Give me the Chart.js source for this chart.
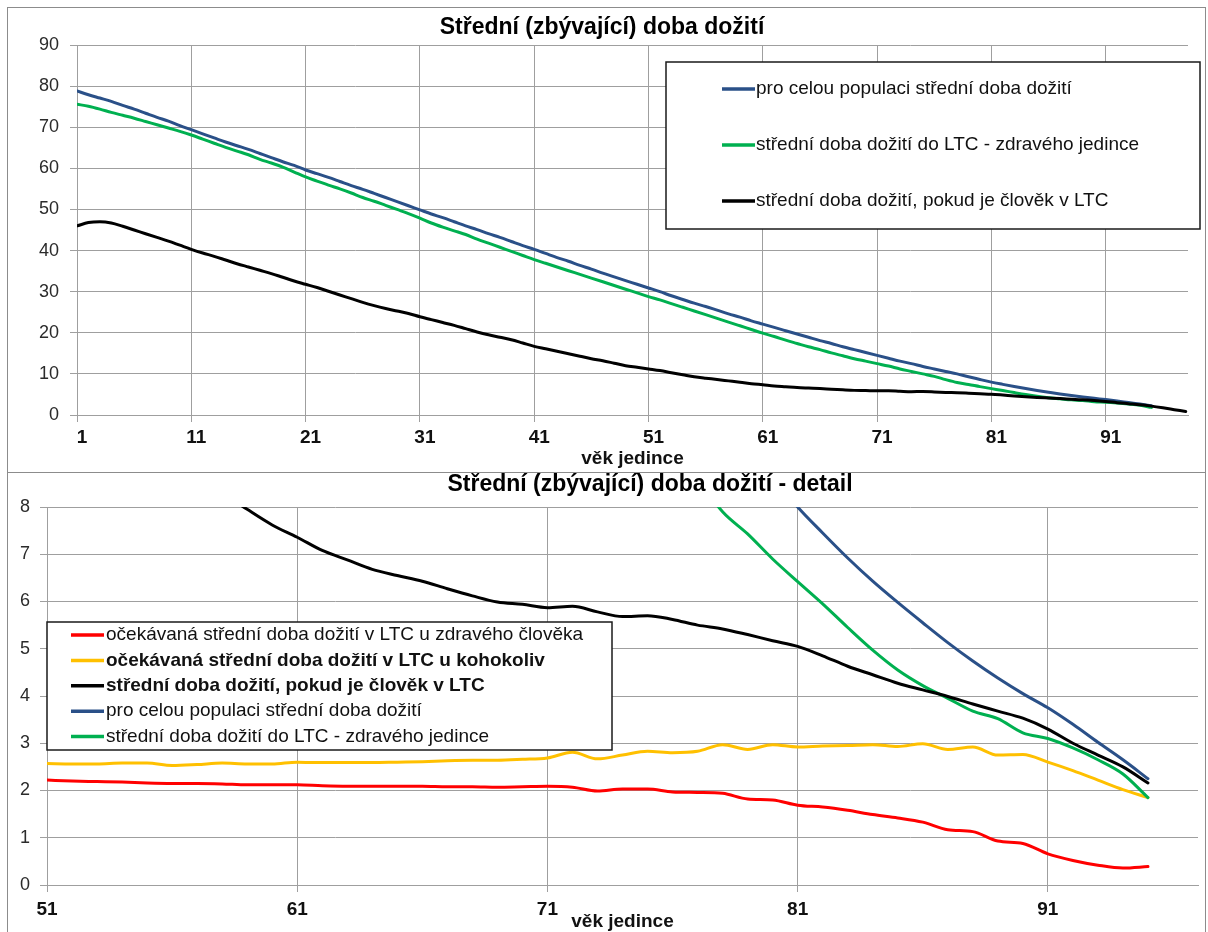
<!DOCTYPE html>
<html lang="cs">
<head>
<meta charset="utf-8">
<title>Střední (zbývající) doba dožití</title>
<script src="https://cdn.jsdelivr.net/npm/chart.js@4.4.1/dist/chart.umd.min.js"></script>
<style>
  html, body { margin: 0; padding: 0; background: #ffffff; }
  body { width: 1208px; height: 932px; position: relative; overflow: hidden; }
  .frame { position: absolute; box-sizing: border-box; border: 1px solid #8c8c8c; }
  #frameTop { left: 7px; top: 7px; width: 1199px; height: 466px; }
  #frameDetail { left: 7px; top: 472px; width: 1199px; height: 470px; }
  canvas { position: absolute; }
  #lifeTop { left: 8px; top: 8px; }
  #lifeDetail { left: 8px; top: 472px; }
</style>
</head>
<body>
<div class="frame" id="frameTop"></div>
<div class="frame" id="frameDetail"></div>
<canvas id="lifeTop" width="1196" height="464"></canvas>
<canvas id="lifeDetail" width="1196" height="460"></canvas>
<script>
// ---- ages (věk jedince) ----
const agesAll = [
  1, 2, 3, 4, 5, 6, 7, 8, 9, 10, 11, 12, 13, 14, 15, 16, 17, 18, 19, 20,
  21, 22, 23, 24, 25, 26, 27, 28, 29, 30, 31, 32, 33, 34, 35, 36, 37, 38, 39, 40,
  41, 42, 43, 44, 45, 46, 47, 48, 49, 50, 51, 52, 53, 54, 55, 56, 57, 58, 59, 60,
  61, 62, 63, 64, 65, 66, 67, 68, 69, 70, 71, 72, 73, 74, 75, 76, 77, 78, 79, 80,
  81, 82, 83, 84, 85, 86, 87, 88, 89, 90, 91, 92, 93, 94, 95, 96, 97, 98
];
const agesDetail = [
  51, 52, 53, 54, 55, 56, 57, 58, 59, 60, 61, 62, 63, 64, 65, 66, 67, 68, 69, 70,
  71, 72, 73, 74, 75, 76, 77, 78, 79, 80, 81, 82, 83, 84, 85, 86, 87, 88, 89, 90,
  91, 92, 93, 94, 95
];
const tickAgesTop = [1, 11, 21, 31, 41, 51, 61, 71, 81, 91];
const tickAgesDetail = [51, 61, 71, 81, 91];

// ---- series (years) ----
// pro celou populaci střední doba dožití, ages 1..95
const lifeAll = [
  78.8, 77.9, 77.1, 76.3, 75.3, 74.4, 73.4, 72.4, 71.5, 70.4,
  69.4, 68.4, 67.4, 66.4, 65.5, 64.6, 63.6, 62.6, 61.6, 60.7,
  59.6, 58.7, 57.8, 56.8, 55.8, 54.9, 53.9, 52.9, 51.9, 50.9,
  49.9, 48.9, 48.0, 47.0, 46.0, 45.1, 44.1, 43.2, 42.2, 41.2,
  40.3, 39.3, 38.3, 37.4, 36.4, 35.5, 34.5, 33.6, 32.7, 31.8,
  30.9, 30.0, 29.0, 28.1, 27.2, 26.4, 25.5, 24.6, 23.8, 22.9,
  22.1, 21.3, 20.5, 19.7, 18.9, 18.1, 17.4, 16.6, 15.9, 15.2,
  14.5, 13.8, 13.1, 12.5, 11.8, 11.2, 10.6, 10.0, 9.3, 8.65,
  8.0, 7.45, 6.92, 6.43, 5.98, 5.55, 5.13, 4.74, 4.38, 4.05,
  3.75, 3.4, 3.02, 2.65, 2.25
];
// střední doba dožití do LTC - zdravého jedince, ages 1..95
const lifeHealthy = [
  75.6, 75.1, 74.4, 73.6, 72.9, 72.2, 71.4, 70.6, 69.8, 69.0,
  68.1, 67.1, 66.1, 65.1, 64.2, 63.3, 62.2, 61.3, 60.3, 59.1,
  57.9, 56.9, 55.9, 55.0, 54.0, 52.9, 52.0, 51.0, 50.0, 49.0,
  47.9, 46.7, 45.7, 44.8, 43.9, 42.8, 41.8, 40.8, 39.8, 38.8,
  37.8, 36.9, 36.0, 35.1, 34.2, 33.3, 32.4, 31.5, 30.6, 29.7,
  28.8, 28.0, 27.1, 26.2, 25.3, 24.4, 23.5, 22.6, 21.7, 20.8,
  19.9, 19.1, 18.2, 17.4, 16.6, 15.9, 15.1, 14.4, 13.7, 13.1,
  12.5, 11.9, 11.2, 10.6, 10.0, 9.4, 8.6, 7.9, 7.43, 6.9,
  6.42, 5.95, 5.45, 4.97, 4.55, 4.22, 3.95, 3.68, 3.52, 3.22,
  3.1, 2.9, 2.65, 2.35, 1.85
];
// střední doba dožití, pokud je člověk v LTC, ages 1..98
const lifeInLTC = [
  46.0, 46.8, 47.0, 46.7, 45.9, 45.0, 44.1, 43.2, 42.3, 41.3,
  40.3, 39.4, 38.6, 37.7, 36.8, 36.0, 35.2, 34.4, 33.5, 32.6,
  31.8, 31.0, 30.1, 29.2, 28.3, 27.4, 26.6, 25.9, 25.3, 24.7,
  23.9, 23.2, 22.5, 21.8, 21.0, 20.2, 19.5, 18.9, 18.3, 17.5,
  16.7, 16.1, 15.5, 14.9, 14.3, 13.7, 13.2, 12.6, 12.0, 11.6,
  11.2, 10.8, 10.3, 9.8, 9.3, 8.95, 8.65, 8.3, 7.95, 7.62,
  7.36, 7.08, 6.88, 6.68, 6.55, 6.43, 6.27, 6.12, 5.99, 5.94,
  5.87, 5.9, 5.78, 5.68, 5.7, 5.62, 5.5, 5.42, 5.3, 5.17,
  5.05, 4.85, 4.63, 4.45, 4.27, 4.13, 3.99, 3.83, 3.68, 3.53,
  3.3, 3.0, 2.75, 2.5, 2.16, 1.75, 1.3, 0.85
];
// očekávaná střední doba dožití v LTC u zdravého člověka, ages 51..95
const ltcHealthy = [
  2.22, 2.20, 2.19, 2.18, 2.16, 2.15, 2.15, 2.14, 2.12, 2.12,
  2.12, 2.10, 2.09, 2.09, 2.09, 2.09, 2.08, 2.08, 2.07, 2.08,
  2.09, 2.07, 1.99, 2.03, 2.03, 1.97, 1.96, 1.94, 1.82, 1.80,
  1.69, 1.65, 1.58, 1.49, 1.42, 1.33, 1.17, 1.13, 0.93, 0.88,
  0.66, 0.52, 0.42, 0.36, 0.39
];
// očekávaná střední doba dožití v LTC u kohokoliv, ages 51..95
const ltcAnyone = [
  2.57, 2.56, 2.56, 2.58, 2.58, 2.53, 2.55, 2.58, 2.56, 2.56,
  2.60, 2.59, 2.59, 2.59, 2.60, 2.61, 2.63, 2.64, 2.64, 2.66,
  2.69, 2.81, 2.67, 2.75, 2.83, 2.80, 2.83, 2.97, 2.87, 2.97,
  2.92, 2.94, 2.95, 2.97, 2.93, 2.99, 2.87, 2.92, 2.75, 2.76,
  2.60, 2.42, 2.22, 2.02, 1.85
];

// ---- texts ----
const titleTop = 'Střední (zbývající) doba dožití';
const titleDetail = 'Střední (zbývající) doba dožití - detail';
const axisTitleX = 'věk jedince';
const nameAll = 'pro celou populaci střední doba dožití';
const nameHealthy = 'střední doba dožití do LTC - zdravého jedince';
const nameInLTC = 'střední doba dožití, pokud je člověk v LTC';
const nameLtcHealthy = 'očekávaná střední doba dožití v LTC u zdravého člověka';
const nameLtcAnyone = 'očekávaná střední doba dožití v LTC u kohokoliv';

// ---- helpers ----
const FONT = "'Liberation Sans', Arial, sans-serif";
const GRID = '#9f9f9f';
const COLORS = { all: '#2a5088', healthy: '#00b050', inLTC: '#000000', ltcHealthy: '#ff0000', ltcAnyone: '#ffc000' };
const pairs = (xs, ys) => ys.map((y, i) => ({ x: xs[i], y }));
const detailPart = (arr) => arr.slice(50, 95); // ages 51..95

Chart.defaults.font.family = FONT;

// Chart heading drawn at a fixed centre.
const heading = {
  id: 'heading',
  afterDraw(chart, args, o) {
    const ctx = chart.ctx;
    ctx.save();
    ctx.font = 'bold ' + o.size + 'px ' + FONT;
    ctx.fillStyle = '#000';
    ctx.textAlign = 'center';
    ctx.textBaseline = 'middle';
    ctx.fillText(o.text, o.x, o.y);
    ctx.restore();
  }
};

// Boxed legend laid over the plot area, built from the datasets.
const boxedLegend = {
  id: 'boxedLegend',
  afterDatasetsDraw(chart, args, o) {
    const ctx = chart.ctx;
    const ds = chart.data.datasets;
    ctx.save();
    ctx.fillStyle = '#ffffff';
    ctx.fillRect(o.left, o.top, o.width, o.height);
    ctx.strokeStyle = '#1a1a1a';
    ctx.lineWidth = 1.5;
    ctx.strokeRect(o.left, o.top, o.width, o.height);
    o.order.forEach((idx, row) => {
      const d = ds[idx];
      const y = o.firstRow + row * o.rowGap;
      ctx.strokeStyle = d.borderColor;
      ctx.lineWidth = 3.5;
      ctx.beginPath();
      ctx.moveTo(o.sampleX, y);
      ctx.lineTo(o.sampleX + o.sampleLen, y);
      ctx.stroke();
      ctx.font = (o.bold.includes(idx) ? 'bold ' : '') + o.size + 'px ' + FONT;
      ctx.fillStyle = '#111';
      ctx.textAlign = 'left';
      ctx.textBaseline = 'middle';
      ctx.fillText(d.label, o.textX, y);
    });
    ctx.restore();
  }
};

function lineSet(label, color, points, order) {
  return {
    label, data: points, borderColor: color, backgroundColor: color,
    borderWidth: 3, pointRadius: 0, pointHoverRadius: 0,
    cubicInterpolationMode: 'monotone', borderCapStyle: 'round', borderJoinStyle: 'round',
    fill: false, order
  };
}

function xAxis(min, max, tickAges, height, labelOffset, tickPad, titlePadBottom) {
  return {
    type: 'linear', min, max,
    afterBuildTicks: (s) => { s.ticks = tickAges.map(v => ({ value: v })); },
    afterFit: (s) => { s.height = height; },
    grid: { color: GRID, lineWidth: 1, tickLength: 7, tickColor: GRID },
    border: { color: GRID, width: 1 },
    ticks: { font: { size: 19, weight: 'bold' }, color: '#111', padding: tickPad, labelOffset, maxRotation: 0, autoSkip: false },
    title: { display: true, text: axisTitleX, font: { size: 19, weight: 'bold', lineHeight: 1 }, color: '#111', padding: { top: 0, bottom: titlePadBottom } }
  };
}

function yAxis(max, step, width, tickPad) {
  return {
    min: 0, max,
    afterFit: (s) => { s.width = width; },
    grid: { color: GRID, lineWidth: 1, tickLength: 7, tickColor: GRID },
    border: { color: GRID, width: 1 },
    ticks: { stepSize: step, font: { size: 18 }, color: '#2b2b2b', padding: tickPad }
  };
}

// ---- upper chart: whole age range ----
new Chart(document.getElementById('lifeTop'), {
  type: 'line',
  data: {
    datasets: [
      lineSet(nameAll, COLORS.all, pairs(agesAll, lifeAll), 3),
      lineSet(nameHealthy, COLORS.healthy, pairs(agesAll, lifeHealthy), 2),
      lineSet(nameInLTC, COLORS.inLTC, pairs(agesAll, lifeInLTC), 1)
    ]
  },
  options: {
    responsive: false, animation: false, events: [],
    layout: { padding: { top: 37, right: 16, left: 0, bottom: 0 } },
    scales: {
      x: xAxis(1, 98.2, tickAgesTop, 57, 5, 4, 3.5),
      y: yAxis(90, 10, 69, 11)
    },
    plugins: {
      legend: { display: false }, tooltip: { enabled: false },
      heading: { text: titleTop, x: 594, y: 20, size: 23 },
      boxedLegend: {
        left: 658, top: 54, width: 534, height: 167,
        order: [0, 1, 2], bold: [], size: 19,
        firstRow: 81, rowGap: 56, sampleX: 714, sampleLen: 33, textX: 748
      }
    }
  },
  plugins: [heading, boxedLegend]
});

// ---- lower chart: detail for older ages ----
new Chart(document.getElementById('lifeDetail'), {
  type: 'line',
  data: {
    datasets: [
      lineSet(nameLtcHealthy, COLORS.ltcHealthy, pairs(agesDetail, ltcHealthy), 5),
      lineSet(nameLtcAnyone, COLORS.ltcAnyone, pairs(agesDetail, ltcAnyone), 4),
      lineSet(nameInLTC, COLORS.inLTC, pairs(agesDetail, detailPart(lifeInLTC)), 1),
      lineSet(nameAll, COLORS.all, pairs(agesDetail, detailPart(lifeAll)), 3),
      lineSet(nameHealthy, COLORS.healthy, pairs(agesDetail, detailPart(lifeHealthy)), 2)
    ]
  },
  options: {
    responsive: false, animation: false, events: [],
    layout: { padding: { top: 35, right: 6, left: 0, bottom: 0 } },
    scales: {
      x: xAxis(51, 97, tickAgesDetail, 47, 0, 6, 0.5),
      y: yAxis(8, 1, 39, 10)
    },
    plugins: {
      legend: { display: false }, tooltip: { enabled: false },
      heading: { text: titleDetail, x: 642, y: 13, size: 23 },
      boxedLegend: {
        left: 39, top: 150, width: 565, height: 128,
        order: [0, 1, 2, 3, 4], bold: [1, 2], size: 19,
        firstRow: 163, rowGap: 25.4, sampleX: 63, sampleLen: 33, textX: 98
      }
    }
  },
  plugins: [heading, boxedLegend]
});
</script>
</body>
</html>
